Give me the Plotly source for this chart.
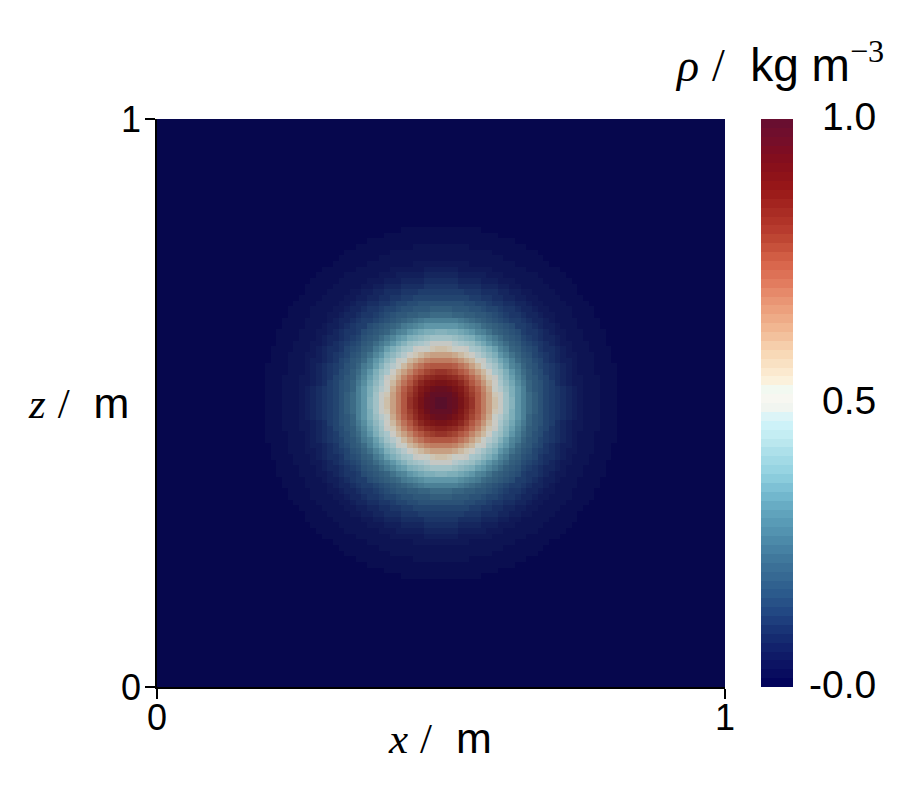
"""
Mapa de densidade rho(x, z) - bolha central, estilo ParaView
(Cool to Warm Extended, discretizado em 64 cores).
"""
import numpy as np
import plotly.graph_objects as go

# Perfil radial: distancia ao centro (m) -> densidade (kg m^-3)
raio = [0.0, 0.02, 0.04, 0.055, 0.07, 0.085, 0.095, 0.107, 0.12, 0.137,
        0.16, 0.195, 0.245, 0.30, 0.36, 0.50, 0.80]
densidade = [1.0, 0.96, 0.88, 0.80, 0.72, 0.62, 0.55, 0.48, 0.42, 0.33,
             0.22, 0.13, 0.05, 0.02, 0.0, 0.0, 0.0]

centro_x, centro_z = 0.5, 0.5
n_celulas = 100

ticks_eixo = [0, 1]
ticks_eixo_txt = ["0", "1"]
ticks_barra = [1.0, 0.5, 0.0]
ticks_barra_txt = ["1.0", "0.5", "-0.0"]

# Cool to Warm (Extended) - pontos de controle
CMAP_POS = [0, 0.03125, 0.0625, 0.09375, 0.125, 0.15625, 0.1875, 0.21875, 0.25,
            0.28125, 0.3125, 0.34375, 0.375, 0.40625, 0.4375, 0.46875, 0.5, 0.52,
            0.54, 0.5625, 0.59375, 0.625, 0.65625, 0.6875, 0.71875, 0.75, 0.78125,
            0.8125, 0.84375, 0.875, 0.90625, 0.9375, 0.96875, 1.0]
CMAP_RGB = [
    (0.0, 0.0, 0.34902), (0.039216, 0.062745, 0.380392), (0.062745, 0.117647, 0.411765),
    (0.090196, 0.184314, 0.45098), (0.12549, 0.262745, 0.501961), (0.160784, 0.337255, 0.541176),
    (0.2, 0.396078, 0.568627), (0.239216, 0.454902, 0.6), (0.286275, 0.521569, 0.65098),
    (0.337255, 0.592157, 0.701961), (0.388235, 0.654902, 0.74902), (0.466667, 0.737255, 0.819608),
    (0.572549, 0.819608, 0.878431), (0.654902, 0.866667, 0.909804), (0.752941, 0.917647, 0.941176),
    (0.823529, 0.956863, 0.981961), (0.988235, 0.960784, 0.929412), (0.941176, 0.984314, 0.964706),
    (0.988235, 0.945098, 0.858824), (0.980392, 0.898039, 0.784314), (0.968627, 0.835294, 0.698039),
    (0.94902, 0.733333, 0.588235), (0.929412, 0.65098, 0.509804), (0.909804, 0.564706, 0.435294),
    (0.878431, 0.458824, 0.352941), (0.839216, 0.388235, 0.286275), (0.760784, 0.294118, 0.211765),
    (0.701961, 0.211765, 0.168627), (0.65098, 0.156863, 0.129412), (0.6, 0.094118, 0.094118),
    (0.54902, 0.066667, 0.098039), (0.501961, 0.05098, 0.12549), (0.45098, 0.054902, 0.172549),
    (0.4, 0.054902, 0.192157),
]

FONTE = "Liberation Sans, Arial, sans-serif"
SERIF = "Liberation Serif, Times New Roman, serif"

# a pagina tem margem de 8 px no body: a figura comeca em (8, 8)
OFF = 8
LARG_FIG, ALT_FIG = 917 - 2 * OFF, 804 - 2 * OFF
# area do grafico em pixels da janela (referencia)
X0, X1, Y0, Y1 = 157, 725, 119, 687
LARG = X1 - X0


def px_x(p):
    return (p - X0) / LARG


def px_y(q):
    return (Y1 - q) / LARG


def cor_mapa(v, fator=1.0, amb=0.0):
    rgb = [np.interp(v, CMAP_POS, [c[i] for c in CMAP_RGB]) for i in range(3)]
    r, g, b = [int(round(min(255, 255 * (c * fator) + amb))) for c in rgb]
    return f"rgb({r},{g},{b})"


def escala_discreta(n=64, fator=1.0, amb=0.0):
    escala = []
    for k in range(n):
        cor = cor_mapa((k + 0.5) / n, fator, amb)
        escala.append([k / n, cor])
        escala.append([(k + 1) / n, cor])
    return escala


def serif(t, italico=True):
    if italico:
        t = f"<i>{t}</i>"
    return f'<span style="font-family:{SERIF}">{t}</span>'


# grade de celulas
centros = (np.arange(n_celulas) + 0.5) / n_celulas
X, Z = np.meshgrid(centros, centros)
R = np.sqrt((X - centro_x) ** 2 + (Z - centro_z) ** 2)
rho = np.interp(R, raio, densidade)

fig = go.Figure()

# campo (cores escurecidas pela iluminacao da cena)
fig.add_trace(go.Heatmap(
    x=centros, y=centros, z=rho,
    zmin=0, zmax=1, zsmooth=False,
    colorscale=escala_discreta(64, fator=0.8, amb=4),
    showscale=False, hoverinfo="skip",
))

# barra de cores (sem iluminacao)
fig.add_trace(go.Scatter(
    x=[centro_x], y=[centro_z], mode="markers",
    marker=dict(
        size=1, opacity=0, color=[0.5], cmin=0, cmax=1,
        colorscale=escala_discreta(64),
        showscale=True,
        colorbar=dict(
            x=px_x(761), xanchor="left", xref="paper",
            y=0.5, yanchor="middle", len=1, lenmode="fraction",
            thickness=32, xpad=0, ypad=0,
            outlinewidth=0, ticks="", showticklabels=False,
        ),
    ),
    hoverinfo="skip", showlegend=False,
))

eixo = dict(
    range=[0, 1], tickvals=ticks_eixo, ticktext=ticks_eixo_txt,
    ticks="outside", ticklen=10, tickwidth=1.5, tickcolor="black",
    showline=True, linecolor="black", linewidth=1.5,
    showgrid=False, zeroline=False, automargin=False,
    tickfont=dict(size=36, color="black", family=FONTE),
)

fig.update_layout(
    width=LARG_FIG, height=ALT_FIG,
    margin=dict(l=X0 - OFF, r=LARG_FIG - (X1 - OFF), t=Y0 - OFF,
                b=ALT_FIG - (Y1 - OFF), autoexpand=False),
    paper_bgcolor="white", plot_bgcolor="white",
    font=dict(family=FONTE, color="black"),
    xaxis=dict(eixo, ticklabelstandoff=-12),
    yaxis=dict(eixo, ticklabelstandoff=-3),
    showlegend=False,
)

# rotulos da barra de cores (alinhados a direita)
for v, t in zip(ticks_barra, ticks_barra_txt):
    fig.add_annotation(
        x=px_x(878), y=v, xref="paper", yref="paper",
        xanchor="right", yanchor="middle", yshift=3,
        text=t, showarrow=False, font=dict(size=39, color="black"),
    )

# titulo da barra de cores
fig.add_annotation(
    x=px_x(886), y=px_y(62), xref="paper", yref="paper",
    xanchor="right", yanchor="middle",
    text=serif("ρ") + "&nbsp;" + serif("/", False) + "&nbsp; kg m"
    + "<sup>" + serif("−3", False) + "</sup>",
    showarrow=False, font=dict(size=46, color="black"),
)

# titulos dos eixos
fig.add_annotation(
    x=px_x(440), y=px_y(738), xref="paper", yref="paper",
    xanchor="center", yanchor="middle",
    text=serif("x") + "&nbsp;" + serif("/", False) + "&nbsp; m",
    showarrow=False, font=dict(size=43, color="black"),
)
fig.add_annotation(
    x=px_x(78), y=px_y(403), xref="paper", yref="paper",
    xanchor="center", yanchor="middle",
    text=serif("z") + "&nbsp;" + serif("/", False) + "&nbsp; m",
    showarrow=False, font=dict(size=43, color="black"),
)

fig.write_html("out.html")
